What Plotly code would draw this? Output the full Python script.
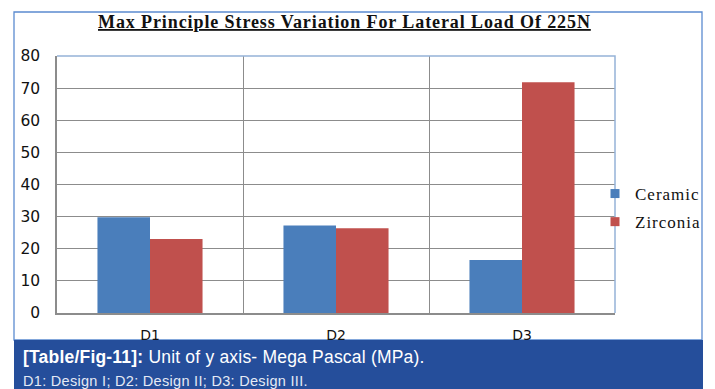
import plotly.graph_objects as go

# Chart data
designs = ["D1", "D2", "D3"]
ceramic = [29.8, 27.2, 16.5]
zirconia = [23.0, 26.4, 71.8]
y_ticks = [0, 10, 20, 30, 40, 50, 60, 70, 80]

title_text = "Max Principle Stress Variation For Lateral Load Of 225N"
caption_head = "[Table/Fig-11]:"
caption_body = "Unit of y axis- Mega Pascal (MPa)."
caption_note = "D1: Design I; D2: Design II; D3: Design III."

BLUE = "#4A7EBB"
RED = "#C0504D"
GRID = "#8C8C8C"
BAND = "#254E9B"

# Page geometry (pixels) and helpers to convert to paper coordinates
W, H = 715, 389
ML, MR, MT, MB = 57, 100, 56, 76
PW, PH = W - ML - MR, H - MT - MB


def px_x(p):
    return (p - ML) / PW


def px_y(p):
    return (H - MB - p) / PH


fig = go.Figure()
fig.add_trace(go.Bar(x=designs, y=ceramic, name="Ceramic", marker=dict(color=BLUE, line=dict(width=0)),
                     showlegend=False))
fig.add_trace(go.Bar(x=designs, y=zirconia, name="Zirconia", marker=dict(color=RED, line=dict(width=0)),
                     showlegend=False))

# Legend entries with small square swatches
serif_sp = '<span style="letter-spacing:1px">{}</span>'
for nm, col in (("Ceramic", BLUE), ("Zirconia", RED)):
    fig.add_trace(go.Scatter(x=[None], y=[None], mode="markers", name=serif_sp.format(nm),
                             legendgroup=nm,
                             marker=dict(symbol="square", size=9, color=col, line=dict(width=0))))

fig.update_layout(
    width=W, height=H,
    margin=dict(l=ML, r=MR, t=MT, b=MB, autoexpand=False),
    paper_bgcolor="white", plot_bgcolor="white",
    barmode="group", bargap=0.435, bargroupgap=0,
    showlegend=True,
    legend=dict(x=px_x(595), y=px_y(176), xanchor="left", yanchor="top",
                font=dict(family="Liberation Serif", size=17, color="#111"),
                bgcolor="rgba(0,0,0,0)", tracegroupgap=3, itemwidth=30),
    xaxis=dict(type="category", range=[-0.5, 2.5], tickson="boundaries",
               showgrid=True, gridcolor=GRID, gridwidth=1.3,
               showline=True, linecolor=GRID, linewidth=1.5, ticks="",
               tickfont=dict(family="DejaVu Sans", size=14, color="#111"),
               ticklabelstandoff=8),
    yaxis=dict(range=[0, 80], tickvals=y_ticks, showgrid=True, gridcolor=GRID, gridwidth=1.3,
               zeroline=False, showline=True, linecolor=GRID, linewidth=1.5, ticks="",
               tickfont=dict(family="DejaVu Sans", size=15.5, color="#111"),
               ticklabelstandoff=12),
)

shapes = [
    # outer frame
    dict(type="rect", xref="paper", yref="paper", x0=px_x(14), x1=px_x(702), y0=px_y(340), y1=px_y(12),
         line=dict(color="#5B8BD0", width=1.3), fillcolor="rgba(0,0,0,0)", layer="below"),
    # light blue top/right edge of the plotting area
    dict(type="path", xref="paper", yref="paper",
         path="M 0 1 L 1 1 L 1 0", line=dict(color="#95B3D7", width=1.5), layer="above"),
    # caption band
    dict(type="rect", xref="paper", yref="paper", x0=px_x(14), x1=px_x(703), y0=px_y(389), y1=px_y(340),
         line=dict(width=0), fillcolor=BAND, layer="above"),
]
fig.update_layout(shapes=shapes)

fig.add_annotation(
    xref="paper", yref="paper", x=px_x(344.5), y=px_y(21.5), xanchor="center", yanchor="middle",
    showarrow=False,
    text=f'<span style="letter-spacing:0.9px"><u><b>{title_text}</b></u></span>',
    font=dict(family="Liberation Serif", size=18, color="#111"),
)
fig.add_annotation(
    xref="paper", yref="paper", x=px_x(21), y=px_y(357), xanchor="left", yanchor="middle",
    showarrow=False,
    text=f'<span style="letter-spacing:0.2px"><b>{caption_head}</b> {caption_body}</span>',
    font=dict(family="Liberation Sans", size=17.5, color="white"),
)
fig.add_annotation(
    xref="paper", yref="paper", x=px_x(21), y=px_y(381), xanchor="left", yanchor="middle",
    showarrow=False,
    text=f'<span style="letter-spacing:0.3px">{caption_note}</span>',
    font=dict(family="Liberation Sans", size=14.5, color="#E4EAF5"),
)

fig.write_html("out.html")
